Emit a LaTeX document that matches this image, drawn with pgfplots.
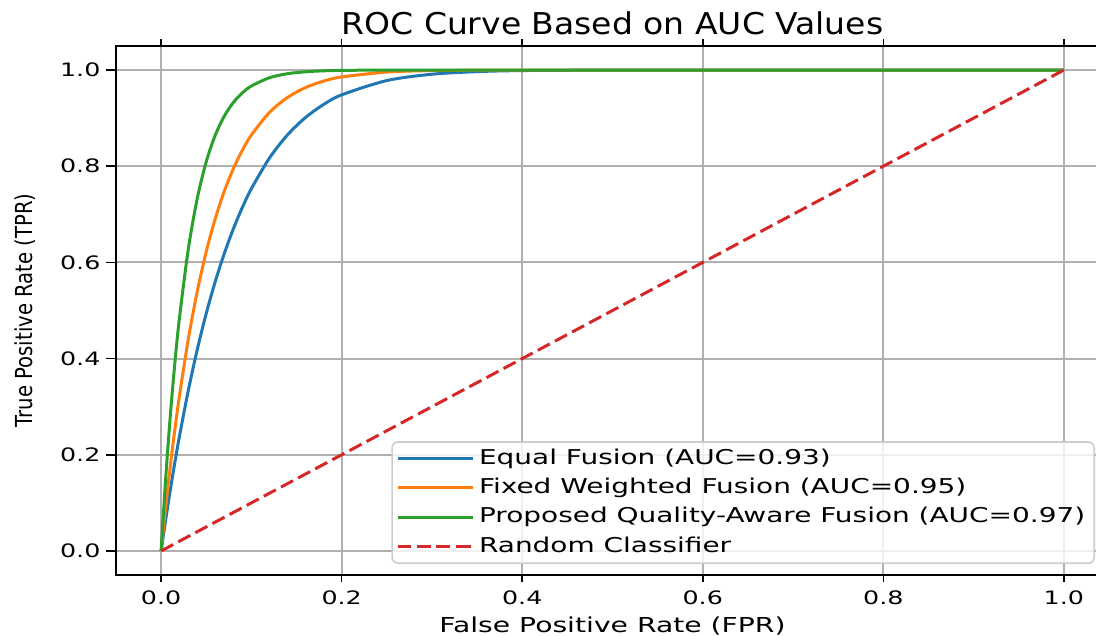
\documentclass[border=0pt]{standalone}
\usepackage{pgfplots}
\pgfplotsset{compat=1.18}
\usepackage{fontspec}
\setmainfont[FakeStretch=1.37]{DejaVu Sans}
\newfontfamily\titlefont[FakeStretch=1.1]{DejaVu Sans}
\newfontfamily\ylabfont[FakeStretch=0.84]{DejaVu Sans}
\definecolor{cblue}{HTML}{1F77B4}
\definecolor{corange}{HTML}{FF7F0E}
\definecolor{cgreen}{HTML}{2CA02C}
\definecolor{cred}{HTML}{D62728}
\definecolor{cgrid}{HTML}{B0B0B0}
\begin{document}
\begin{tikzpicture}
\begin{axis}[name=ax, scale only axis, width=496.5pt, height=264.5pt,
  xmin=-0.05, xmax=1.05, ymin=-0.05, ymax=1.05,
  xtick={0,0.2,0.4,0.6,0.8,1}, ytick={0,0.2,0.4,0.6,0.8,1},
  grid=major, major grid style={color=cgrid, line width=1pt},
  axis line style={line width=0.8pt},
  tick align=outside, tick style={black, line width=0.8pt},
  xtick style={/pgfplots/major tick length=3.5pt},
  ytick style={/pgfplots/major tick length=5pt},
  /pgf/number format/assume math mode=true,
  ticklabel style={font=\fontsize{9.25}{11}\selectfont},
  xticklabel style={/pgf/number format/fixed, /pgf/number format/fixed zerofill, /pgf/number format/precision=1},
  yticklabel style={/pgf/number format/fixed, /pgf/number format/fixed zerofill, /pgf/number format/precision=1},
  legend cell align=left,
  legend image code/.code={\draw[#1] (0pt,0pt) -- (30pt,0pt); \path (30pt,0pt) -- (37.5pt,0pt);},
  legend style={at={(0.9859,0.0208)}, anchor=south east, draw=black!20, line width=0.8pt,
    rounded corners=3pt, fill=white, fill opacity=0.8, text opacity=1,
    font=\fontsize{10.2}{12}\selectfont, inner xsep=2pt, inner ysep=1pt,
    nodes={inner xsep=2.5pt, inner ysep=2pt, text height=8.1pt, text depth=2.55pt}},
]
\addplot[cblue, line width=1.5pt, smooth] coordinates {
(0,0) (0.005,0.0644) (0.01,0.1250) (0.015,0.1819) (0.02,0.2354) (0.03,0.3328) (0.04,0.4187) (0.05,0.4941) (0.06,0.5605) (0.07,0.6187) (0.08,0.6697) (0.09,0.7144) (0.10,0.7534) (0.12,0.8170) (0.14,0.8652) (0.16,0.9014) (0.18,0.9284) (0.20,0.9484) (0.25,0.9781) (0.30,0.9913) (0.35,0.9967) (0.40,0.9989) (0.50,0.9999) (0.6,1) (0.8,1) (1,1)};
\addlegendentry{Equal Fusion (AUC=0.93)}
\addplot[corange, line width=1.5pt, smooth] coordinates {
(0,0) (0.005,0.0908) (0.01,0.1738) (0.015,0.2496) (0.02,0.3188) (0.03,0.4394) (0.04,0.5396) (0.05,0.6226) (0.06,0.6914) (0.07,0.7481) (0.08,0.7949) (0.09,0.8334) (0.10,0.8649) (0.12,0.9119) (0.14,0.9430) (0.16,0.9636) (0.18,0.9770) (0.20,0.9856) (0.25,0.9958) (0.30,0.9989) (0.35,0.9997) (0.40,1) (0.6,1) (0.8,1) (1,1)};
\addlegendentry{Fixed Weighted Fusion (AUC=0.95)}
\addplot[cgreen, line width=1.5pt, smooth] coordinates {
(0,0) (0.005,0.1496) (0.01,0.2774) (0.015,0.3866) (0.02,0.4796) (0.03,0.6265) (0.04,0.7328) (0.05,0.8096) (0.06,0.8648) (0.07,0.9043) (0.08,0.9325) (0.09,0.9526) (0.10,0.9668) (0.12,0.9840) (0.14,0.9924) (0.16,0.9964) (0.18,0.9984) (0.20,0.9993) (0.25,0.9999) (0.30,1) (0.6,1) (0.8,1) (1,1)};
\addlegendentry{Proposed Quality-Aware Fusion (AUC=0.97)}
\addplot[cred, line width=1.5pt, dash pattern=on 6.8pt off 2.9pt] coordinates {(0,0) (1,1)};
\addlegendentry{Random Classifier}
\end{axis}
\node[anchor=base, font=\titlefont\fontsize{15}{18}\selectfont] at ([yshift=5.5pt]ax.north) {ROC Curve Based on AUC Values};
\node[anchor=base, font=\fontsize{10.3}{12}\selectfont] at ([yshift=-29pt]ax.south) {False Positive Rate (FPR)};
\node[rotate=90, anchor=base, font=\ylabfont\fontsize{11.7}{14}\selectfont] at ([xshift=-41.5pt]ax.west) {True Positive Rate (TPR)};
\pgfresetboundingbox
\path ([xshift=-58pt,yshift=-30.5pt]ax.south west) rectangle ([xshift=-6.5pt,yshift=23pt]ax.north east);
\end{tikzpicture}
\end{document}
